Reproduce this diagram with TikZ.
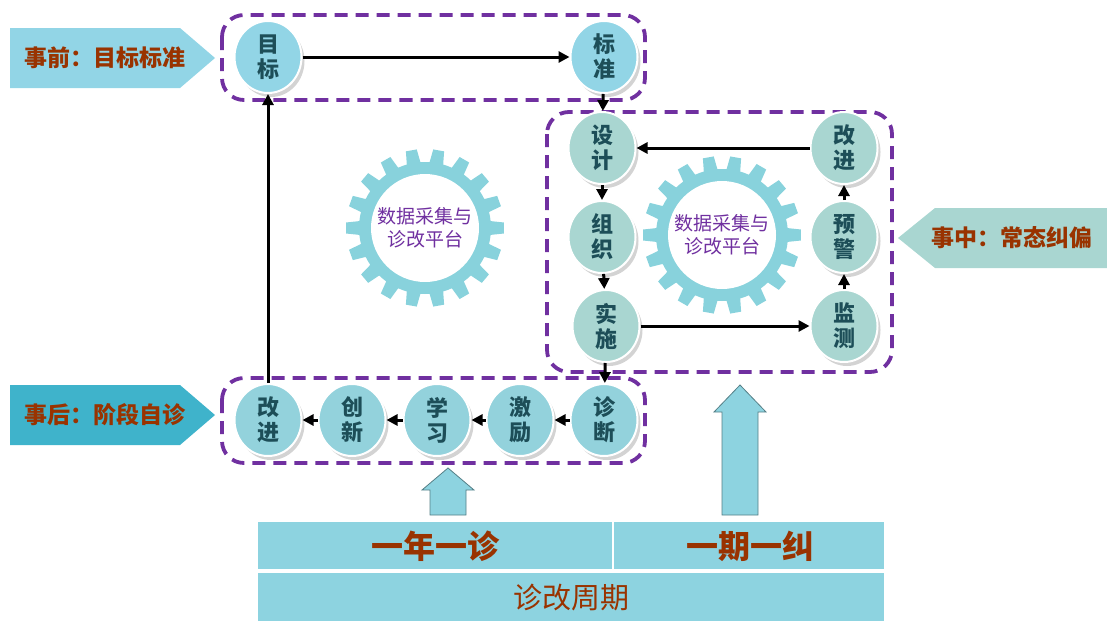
\documentclass[tikz,border=0pt]{standalone}
\usepackage{fontspec}
\setmainfont{Noto Sans CJK SC}
\usetikzlibrary{arrows.meta,shapes.geometric,shadows}
\definecolor{topc}{HTML}{92D5E6}
\definecolor{midc}{HTML}{A9D6D1}
\definecolor{botc}{HTML}{93D2DC}
\definecolor{dashc}{HTML}{7030A0}
\definecolor{txtc}{HTML}{1D4E58}
\definecolor{brownc}{HTML}{993300}
\definecolor{gearc}{HTML}{88D2DC}
\definecolor{barc}{HTML}{8DD3E0}
\definecolor{darkbl}{HTML}{3FB3CB}
\tikzset{
  circ/.style={ellipse, minimum width=67, minimum height=72, inner sep=0pt, draw=white, line width=2pt,
    font=\bfseries\fontsize{22}{25}\selectfont, text=txtc, align=center,
    drop shadow={opacity=0.35, shadow xshift=3pt, shadow yshift=-4pt}},
  dbox/.style={draw=dashc, line width=3.8pt, dash pattern=on 13pt off 8pt, rounded corners=22pt},
  arr/.style={-{Triangle[length=11pt,width=11pt]}, line width=3pt, black},
  lbl/.style={font=\bfseries\fontsize{23}{26}\selectfont, text=brownc},
  geartxt/.style={font=\fontsize{19}{23}\selectfont, text=dashc, align=center},
}
\newcommand{\drawgear}[2]{%
  \begin{scope}[shift={#1}]
    \fill[gearc] (-6:66) \foreach \i in {0,...,17} {
       -- (\i*20-4:79) -- (\i*20+4:79) -- (\i*20+6:66) arc[start angle=\i*20+6, end angle=\i*20+14, radius=66]
    } -- cycle;
    \fill[white] (0,0) circle (54);
  \end{scope}
  \node[geartxt] (#2) at #1 {数据采集与\\诊改平台};
}
\begin{document}
\begin{tikzpicture}[x=1pt,y=-1pt]
\useasboundingbox (0,0) rectangle (1107,621);

% gears
\drawgear{(425,228)}{gearL}
\drawgear{(722,235)}{gearR}

% dashed boxes
\draw[dbox] (222,15) rectangle (645,100);
\draw[dbox] (547,112) rectangle (892,372);
\draw[dbox] (222,378) rectangle (645,463);

% top nodes
\node[circ, fill=topc] (mb) at (268,57) {目\\标};
\node[circ, fill=topc] (bz) at (604,57) {标\\准};

% middle nodes
\node[circ, fill=midc] (sj) at (602,148) {设\\计};
\node[circ, fill=midc] (zz) at (602,237) {组\\织};
\node[circ, fill=midc] (ss) at (606,326) {实\\施};
\node[circ, fill=midc] (gj) at (844,148) {改\\进};
\node[circ, fill=midc] (yj) at (844,237) {预\\警};
\node[circ, fill=midc] (jc) at (844,326) {监\\测};

% bottom nodes
\node[circ, fill=botc] (gj2) at (268,420) {改\\进};
\node[circ, fill=botc] (cx) at (352,420) {创\\新};
\node[circ, fill=botc] (xx) at (437,420) {学\\习};
\node[circ, fill=botc] (jl) at (520,420) {激\\励};
\node[circ, fill=botc] (zd) at (604,420) {诊\\断};

% connectors
\draw[arr] (mb) -- (bz);
\draw[arr] (bz) -- (sj);
\draw[arr] (sj) -- (zz);
\draw[arr] (zz) -- (ss);
\draw[arr] (ss) -- (jc);
\draw[arr] (jc) -- (yj);
\draw[arr] (yj) -- (gj);
\draw[arr] (gj) -- (sj);
\draw[arr] (ss) -- (zd);
\draw[arr] (zd) -- (jl);
\draw[arr] (jl) -- (xx);
\draw[arr] (xx) -- (cx);
\draw[arr] (cx) -- (gj2);
\draw[arr] (gj2) -- (mb);

% side labels
\fill[topc] (10,28) -- (180,28) -- (215,58) -- (180,88) -- (10,88) -- cycle;
\node[lbl] (lpre) at (105,58) {事前：目标标准};
\fill[darkbl] (10,385) -- (180,385) -- (215,415) -- (180,445) -- (10,445) -- cycle;
\node[lbl] (lpost) at (105,415) {事后：阶段自诊};
\fill[midc] (898,238) -- (935,208) -- (1107,208) -- (1107,268) -- (935,268) -- cycle;
\node[lbl] (lmid) at (1012,238) {事中：常态纠偏};

% block arrows
\draw[fill=barc, draw=barc!60!black, line width=0.8pt] (448,468) -- (474,490) -- (466,490) -- (466,515) -- (430,515) -- (430,490) -- (422,490) -- cycle;
\draw[fill=barc, draw=barc!60!black, line width=0.8pt] (740,385) -- (766,412) -- (758,412) -- (758,515) -- (722,515) -- (722,412) -- (714,412) -- cycle;

% bars
\fill[barc] (258,522) rectangle (612,569);
\fill[barc] (614,522) rectangle (884,569);
\fill[barc] (258,573) rectangle (884,621);
\node[font=\bfseries\fontsize{32}{36}\selectfont, text=brownc] (yn) at (435,546) {一年一诊};
\node[font=\bfseries\fontsize{32}{36}\selectfont, text=brownc] (yq) at (750,546) {一期一纠};
\node[font=\fontsize{29}{33}\selectfont, text=brownc] (zg) at (571,598) {诊改周期};
\end{tikzpicture}
\end{document}
